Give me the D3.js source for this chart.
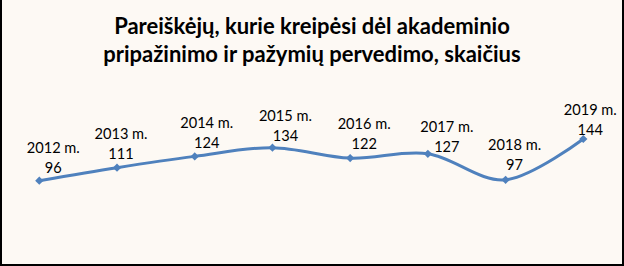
<!DOCTYPE html>
<html>
<head>
<meta charset="utf-8">
<script src="https://cdn.jsdelivr.net/npm/d3@7"></script>
<style>
  html, body { margin: 0; padding: 0; background: #fdf9f4; }
  svg { display: block; }
</style>
</head>
<body>
<svg id="chart" width="624" height="266"></svg>
<script>
// data
var years = ["2012 m.", "2013 m.", "2014 m.", "2015 m.", "2016 m.", "2017 m.", "2018 m.", "2019 m."]
var counts = [96, 111, 124, 134, 122, 127, 97, 144]
var titleLines = ["Pareiškėjų, kurie kreipėsi dėl akademinio", "pripažinimo ir pažymių pervedimo, skaičius"]

// label placement (shift of each data label from its point)
var labelDx = [14, 4, 12, 13, 14, 19, 9, 7]
var labelDy = [-8, -9, -8, -7, -9, -2, -10, -4]

var svg = d3.select("#chart")
var width = 624, height = 266

svg.append("rect")
  .attr("x", 1).attr("y", -1)
  .attr("width", width - 2).attr("height", height)
  .attr("fill", "#fdf9f4")
  .attr("stroke", "black")
  .attr("stroke-width", 2)

var title = svg.append("g")
title.selectAll("text").data(titleLines).enter()
  .append("text")
  .attr("x", width / 2)
  .attr("y", function (d, i) { return 34 + i * 28 })
  .attr("text-anchor", "middle")
  .attr("font-family", "Lato, 'Open Sans', sans-serif")
  .attr("font-weight", "bold")
  .attr("font-size", "22px")
  .attr("fill", "black")
  .text(function (d) { return d })

var xScale = d3.scalePoint()
  .domain(years)
  .range([39.3, 583.3])

var yScale = d3.scaleLinear()
  .domain([0, 160])
  .range([264.1, 125.1])

var line = d3.line()
  .x(function (d, i) { return xScale(years[i]) })
  .y(function (d) { return yScale(d) })
  .curve(d3.curveCatmullRom.alpha(0))

svg.append("path")
  .datum(counts)
  .attr("d", line)
  .attr("fill", "none")
  .attr("stroke", "#4f81bd")
  .attr("stroke-width", 3)
  .attr("stroke-linejoin", "round")

var diamond = d3.symbol().type(d3.symbolSquare).size(34)

svg.append("g").selectAll("path").data(counts).enter()
  .append("path")
  .attr("d", diamond)
  .attr("transform", function (d, i) {
    return "translate(" + xScale(years[i]) + "," + yScale(d) + ") rotate(45)"
  })
  .attr("fill", "#4f81bd")

var labels = svg.append("g")
  .attr("font-family", "Lato, 'Open Sans', sans-serif")
  .attr("font-size", "14.6px")
  .attr("fill", "black")
  .attr("text-anchor", "middle")

labels.selectAll("text.year").data(counts).enter()
  .append("text")
  .attr("class", "year")
  .attr("x", function (d, i) { return xScale(years[i]) + labelDx[i] })
  .attr("y", function (d, i) { return yScale(d) + labelDy[i] - 20 })
  .text(function (d, i) { return years[i] })

labels.selectAll("text.val").data(counts).enter()
  .append("text")
  .attr("class", "val")
  .attr("x", function (d, i) { return xScale(years[i]) + labelDx[i] })
  .attr("y", function (d, i) { return yScale(d) + labelDy[i] })
  .text(function (d) { return d })
</script>
</body>
</html>
